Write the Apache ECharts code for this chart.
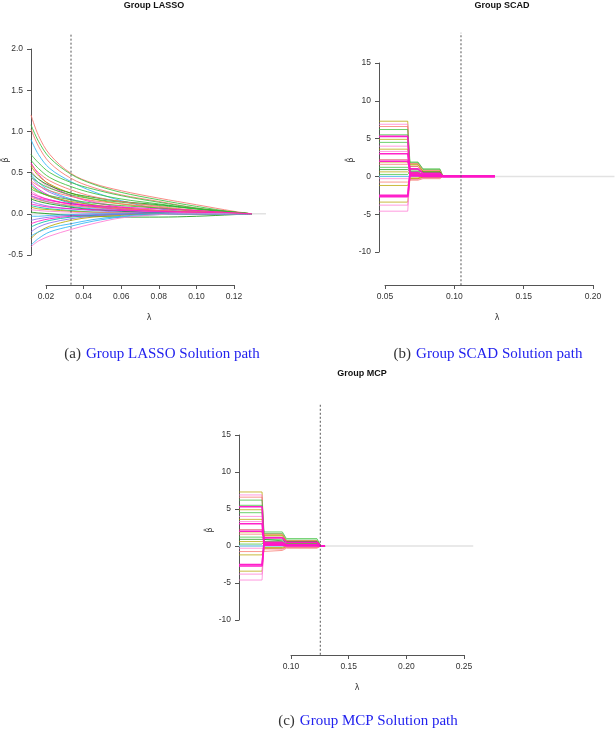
<!DOCTYPE html>
<html>
<head>
<meta charset="utf-8">
<script src="https://cdn.jsdelivr.net/npm/echarts@6/dist/echarts.min.js"></script>
<style>
html,body{margin:0;padding:0;background:#fff;}
#chart{width:615px;height:731px;}
</style>
</head>
<body>
<div id="chart"></div>
<script>
// ---------------- DATA ----------------
const lassoLambda = [0.012, 0.016, 0.022, 0.0333, 0.045, 0.06, 0.08, 0.10, 0.12, 0.1295];
const lassoPaths = [
  [1.20,0.95,0.72,0.49,0.37,0.28,0.19,0.11,0.03,0],
  [1.08,0.88,0.68,0.48,0.36,0.26,0.17,0.09,0.02,0],
  [1.03,0.82,0.62,0.43,0.32,0.23,0.15,0.07,0.02,0],
  [0.90,0.72,0.55,0.39,0.27,0.16,0.06,0.02,0,0],
  [0.72,0.62,0.50,0.38,0.30,0.22,0.14,0.07,0.02,0],
  [0.65,0.55,0.44,0.33,0.25,0.18,0.12,0.06,0.01,0],
  [0.62,0.48,0.35,0.22,0.14,0.08,0.03,0.01,0,0],
  [0.58,0.46,0.36,0.25,0.18,0.12,0.07,0.03,0.01,0],
  [0.52,0.42,0.32,0.22,0.15,0.09,0.04,0.01,0,0],
  [0.50,0.42,0.34,0.25,0.20,0.15,0.11,0.06,0.02,0],
  [0.48,0.38,0.28,0.18,0.11,0.06,0.02,0,0,0],
  [0.45,0.35,0.26,0.17,0.10,0.05,0.02,0,0,0],
  [0.40,0.34,0.28,0.21,0.16,0.12,0.08,0.04,0.01,0],
  [0.38,0.30,0.22,0.14,0.09,0.05,0.02,0,0,0],
  [0.35,0.28,0.21,0.13,0.08,0.04,0.01,0,0,0],
  [0.33,0.27,0.21,0.15,0.11,0.07,0.04,0.02,0,0],
  [0.30,0.26,0.22,0.17,0.13,0.10,0.07,0.04,0.01,0],
  [0.28,0.22,0.17,0.11,0.07,0.04,0.02,0,0,0],
  [0.25,0.21,0.17,0.12,0.09,0.06,0.04,0.02,0.01,0],
  [0.22,0.18,0.14,0.09,0.06,0.03,0.01,0,0,0],
  [0.20,0.17,0.14,0.10,0.08,0.06,0.04,0.02,0.01,0],
  [0.18,0.15,0.12,0.08,0.05,0.03,0.01,0,0,0],
  [0.15,0.12,0.09,0.06,0.04,0.02,0.01,0,0,0],
  [0.12,0.10,0.08,0.06,0.05,0.04,0.03,0.02,0.01,0],
  [0.10,0.08,0.06,0.04,0.02,0.01,0,0,0,0],
  [0.08,0.06,0.05,0.03,0.02,0.01,0,0,0,0],
  [0.05,0.04,0.03,0.02,0.01,0.01,0,0,0,0],
  [0.02,0.01,0,-0.02,-0.03,-0.04,-0.04,-0.03,-0.01,0],
  [-0.03,-0.03,-0.02,-0.01,0,0,0,0,0,0],
  [-0.08,-0.06,-0.04,-0.02,-0.01,0,0,0,0,0],
  [-0.12,-0.09,-0.06,-0.03,-0.02,-0.01,0,0,0,0],
  [-0.16,-0.12,-0.08,-0.04,-0.02,-0.01,0,0,0,0],
  [-0.22,-0.16,-0.11,-0.06,-0.03,-0.01,0,0,0,0],
  [-0.30,-0.22,-0.15,-0.08,-0.04,-0.02,0,0,0,0],
  [-0.27,-0.22,-0.17,-0.12,-0.07,-0.03,0,0,0,0],
  [-0.38,-0.30,-0.22,-0.15,-0.09,-0.04,-0.01,0,0,0],
  [-0.40,-0.33,-0.27,-0.19,-0.12,-0.05,-0.01,0,0,0],
  [0.45,0.38,0.31,0.23,0.18,0.14,0.10,0.06,0.02,0],
  [0.60,0.50,0.40,0.29,0.21,0.15,0.09,0.04,0.01,0],
  [0.22,0.19,0.16,0.12,0.10,0.08,0.06,0.04,0.01,0]
];
const lassoColorKeys = ['sal','grn','sal','sky','grn','grn','mag','oli','pnk','dgr',
  'sky','pur','sal','mag','tea','oli','grn','pnk','mag','sky',
  'sal','dgr','pur','mag','tea','oli','pnk','dgr','sky','pur',
  'mag','tea','pur','oli','sky','sky','pnk','grn','sal','mag'];

// SCAD: breakpoints of the step path and plateau values per coefficient
const scadLambda = [0.0457, 0.0664, 0.068, 0.0738, 0.0774, 0.0896, 0.0918, 0.1293];
const scadBig   = [7.3, 6.9, 6.6, 6.2, 5.5, 5.3, 4.9, 4.5, 4.0, 3.6, 3.3, 3.0, 2.2, 2.0, 1.9, 1.6, 1.2, 0.9, 0.6, 0.26, 0, -0.3, -0.75, -1.2, -2.5, -2.7, -3.4, -3.8, -4.6];
const scadMid   = [0.3, 0.2, -0.3, 1.9, 0.5, 0.1, 0.4, 1.8, 0.2, 1.6, 0.3, 0.1, 1.3, 1.0, 1.5, 1.7, 0.9, 0.7, 0.4, 0.6, 0, -0.4, -0.5, -0.2, 0.3, 0.5, -0.3, 0.1, 0.2];
const scadSmall = [0.1, 0.1, -0.1, 1.0, 0.2, 0.0, 0.1, 0.9, 0.0, 0.6, 0.1, 0.0, 0.5, 0.4, 0.7, 0.8, 0.5, 0.6, 0.2, 0.3, 0, -0.2, -0.3, 0.0, 0.1, 0.2, -0.1, 0.0, 0.0];
const stepColorKeys = ['oli','pnk','sal','grn','grn','mag','oli','grn','pnk','oli','pnk','mag','red','mag','oli','sal','grn','dgr','oli','grn','sky','pnk','sal','oli','mag','mag','oli','pnk','pnk'];

// MCP
const mcpLambda = [0.0549, 0.0749, 0.0766, 0.0925, 0.096, 0.1225, 0.126, 0.1295];
const mcpBig   = [7.3, 6.9, 6.6, 6.2, 5.5, 5.3, 4.9, 4.5, 4.0, 3.6, 3.3, 3.0, 2.2, 2.0, 1.9, 1.6, 1.2, 0.9, 0.6, 0.26, 0, -0.3, -0.75, -1.2, -2.5, -2.7, -3.4, -3.8, -4.6];
const mcpMid   = [0.3, 0.2, -0.4, 1.9, 0.5, 0.2, 0.4, 1.7, 0.2, 1.5, 0.3, 0.1, 1.2, 1.1, 1.4, 1.6, 0.9, 0.7, 0.4, 0.6, 0, -0.4, -0.6, -0.2, 0.3, 0.5, -0.3, 0.1, 0.2];
const mcpSmall = [0.2, 0.1, -0.2, 1.0, 0.3, 0.1, 0.2, 0.8, 0.1, 0.6, 0.1, 0.0, 0.5, 0.5, 0.7, 0.7, 0.4, 0.6, 0.3, 0.3, 0, -0.2, -0.3, 0.0, 0.1, 0.2, -0.1, 0.0, 0.0];

// selected lambda (dotted vertical line)
const lassoSelected = 0.0333, scadSelected = 0.1048, mcpSelected = 0.1254;

// axis tick ranges and plotting-region extents (x: lambda, y: beta-hat)
const lassoTicksX = [0.02, 0.12, 0.02], lassoTicksY = [-0.5, 2.0, 0.5];
const scadTicksX  = [0.05, 0.20, 0.05], scadTicksY  = [-10, 15, 5];
const mcpTicksX   = [0.10, 0.25, 0.05], mcpTicksY   = [-10, 15, 5];
const lassoExtX = [0.012, 0.137],  lassoExtY = [-0.86, 2.19];
const scadExtX  = [0.0457, 0.2155], scadExtY  = [-14.4, 19.0];
const mcpExtX   = [0.0549, 0.258], mcpExtY   = [-14.7, 19.3];

// ---------------- STYLE / LAYOUT ----------------
const palette = {sal:'#F8766D', oli:'#B8A400', grn:'#3CC03C', dgr:'#159A15', sky:'#2FB4F5', tea:'#00C0A8',
                 pur:'#8A6CF0', pnk:'#FF7AD4', mag:'#FF14C8', red:'#E0405C'};
const FONT = 'Liberation Sans';

// pixel rectangles spanned by the tick ranges (R style axes)
const axisRects = [
  {left:46, top:49, width:188, height:206, xOff:30, yOff:15},
  {left:385, top:63, width:208, height:189, xOff:33, yOff:6},
  {left:291, top:435, width:173, height:185, xOff:35, yOff:52}
];
const ticksX = [lassoTicksX, scadTicksX, mcpTicksX];
const ticksY = [lassoTicksY, scadTicksY, mcpTicksY];
const extX = [lassoExtX, scadExtX, mcpExtX];
const extY = [lassoExtY, scadExtY, mcpExtY];

function dataRect(i){
  const r = axisRects[i], tx = ticksX[i], ty = ticksY[i], ex = extX[i], ey = extY[i];
  const sx = r.width / (tx[1]-tx[0]), sy = r.height / (ty[1]-ty[0]);
  return {left: r.left + (ex[0]-tx[0])*sx, width: (ex[1]-ex[0])*sx,
          top: r.top + (ty[1]-ey[1])*sy, height: (ey[1]-ey[0])*sy};
}

const labelFmtX = v => v.toFixed(2);
const labelFmtY = [v => v.toFixed(1), v => String(Math.round(v)), v => String(Math.round(v))];

const grids = [], xAxes = [], yAxes = [];
for (let i = 0; i < 3; i++) {
  const r = axisRects[i];
  grids.push({left:r.left, top:r.top, width:r.width, height:r.height});
}
for (let i = 0; i < 3; i++) grids.push(dataRect(i));

function visAxis(gi, t, off, fmt, isX){
  return {
    type:'value', gridIndex:gi, min:t[0], max:t[1], interval:t[2], offset:off,
    axisLine:{show:true, onZero:false, lineStyle:{color:'#555', width:1}},
    axisTick:{show:true, length:4, lineStyle:{color:'#555'}},
    splitLine:{show:false},
    axisLabel:{fontFamily:FONT, fontSize:8.5, color:'#333', margin:isX?7:8, formatter:fmt}
  };
}
for (let i = 0; i < 3; i++) {
  xAxes.push(visAxis(i, ticksX[i], axisRects[i].xOff, labelFmtX, true));
  yAxes.push(visAxis(i, ticksY[i], axisRects[i].yOff, labelFmtY[i], false));
}
for (let i = 0; i < 3; i++) {
  xAxes.push({type:'value', gridIndex:3+i, min:extX[i][0], max:extX[i][1], show:false, splitLine:{show:false}});
  yAxes.push({type:'value', gridIndex:3+i, min:extY[i][0], max:extY[i][1], show:false, splitLine:{show:false}});
}

const series = [];
for (let i = 0; i < 3; i++) {
  series.push({type:'line', xAxisIndex:i, yAxisIndex:i, data:[], symbol:'none', silent:true});
}
function zeroLine(i){
  series.push({type:'line', xAxisIndex:3+i, yAxisIndex:3+i, data:[[extX[i][0],0],[extX[i][1],0]], symbol:'none',
    lineStyle:{color:'#e2e2e2', width:1.5}, z:1, silent:true});
}
function vLine(x, i){
  series.push({type:'line', xAxisIndex:3+i, yAxisIndex:3+i, data:[[x,extY[i][0]],[x,extY[i][1]]], symbol:'none',
    lineStyle:{color:'#555', width:1, type:[2,2]}, z:5, silent:true});
}

zeroLine(0); zeroLine(1); zeroLine(2);

lassoPaths.forEach((p, k) => {
  series.push({type:'line', xAxisIndex:3, yAxisIndex:3, symbol:'none', smooth:0.35,
    data: lassoLambda.map((l,i)=>[l, p[i]]),
    lineStyle:{color:palette[lassoColorKeys[k]], width:1, opacity:0.85}, z:2, silent:true});
});

function stepSeries(lam, big, mid, small, i){
  big.forEach((b, k) => {
    const key = stepColorKeys[k];
    const vals = [b, b, mid[k], mid[k], small[k], small[k], 0, 0];
    series.push({type:'line', xAxisIndex:3+i, yAxisIndex:3+i, symbol:'none',
      data: lam.map((l,j)=>[l, vals[j]]),
      lineStyle:{color:palette[key], width:key==='mag'?1.6:1, opacity:key==='mag'?0.95:0.75}, z:key==='mag'?3:2, silent:true});
  });
}
stepSeries(scadLambda, scadBig, scadMid, scadSmall, 1);
stepSeries(mcpLambda, mcpBig, mcpMid, mcpSmall, 2);

vLine(lassoSelected, 0);
vLine(scadSelected, 1);
vLine(mcpSelected, 2);

const capRich = {
  a:{fontFamily:'Liberation Serif', fontSize:15, fontWeight:'normal', color:'#333'},
  b:{fontFamily:'Liberation Serif', fontSize:15, fontWeight:'normal', color:'#2222ee'}
};
const titleStyle = {fontFamily:FONT, fontSize:9, fontWeight:'bold', color:'#111'};

const option = {
  animation:false,
  backgroundColor:'#fff',
  grid: grids,
  xAxis: xAxes,
  yAxis: yAxes,
  title:[
    {text:'Group LASSO', left:149, top:-4, textAlign:'center', textStyle:titleStyle},
    {text:'Group SCAD', left:497, top:-4, textAlign:'center', textStyle:titleStyle},
    {text:'Group MCP', left:357, top:364, textAlign:'center', textStyle:titleStyle},
    {text:'{a|(a)} {b|Group LASSO Solution path}', left:157, top:340, textAlign:'center', textStyle:{fontWeight:'normal', rich:capRich}},
    {text:'{a|(b)} {b|Group SCAD Solution path}', left:483, top:340, textAlign:'center', textStyle:{fontWeight:'normal', rich:capRich}},
    {text:'{a|(c)} {b|Group MCP Solution path}', left:363, top:707, textAlign:'center', textStyle:{fontWeight:'normal', rich:capRich}}
  ],
  graphic:[
    {type:'text', x:149, y:318, style:{text:'λ', fontFamily:'DejaVu Sans', fontSize:8, fill:'#333', align:'center', verticalAlign:'middle'}},
    {type:'text', x:497, y:318, style:{text:'λ', fontFamily:'DejaVu Sans', fontSize:8, fill:'#333', align:'center', verticalAlign:'middle'}},
    {type:'text', x:357, y:688, style:{text:'λ', fontFamily:'DejaVu Sans', fontSize:8, fill:'#333', align:'center', verticalAlign:'middle'}},
    {type:'text', x:6, y:160, rotation:Math.PI/2, style:{text:'β\u0302', fontFamily:'DejaVu Sans', fontSize:8, fill:'#333', align:'center', verticalAlign:'middle'}},
    {type:'text', x:351, y:160, rotation:Math.PI/2, style:{text:'β\u0302', fontFamily:'DejaVu Sans', fontSize:8, fill:'#333', align:'center', verticalAlign:'middle'}},
    {type:'text', x:210, y:530, rotation:Math.PI/2, style:{text:'β\u0302', fontFamily:'DejaVu Sans', fontSize:8, fill:'#333', align:'center', verticalAlign:'middle'}}
  ],
  series: series
};

const chart = echarts.init(document.getElementById('chart'), null, {renderer:'canvas'});
chart.setOption(option);
</script>
</body>
</html>
